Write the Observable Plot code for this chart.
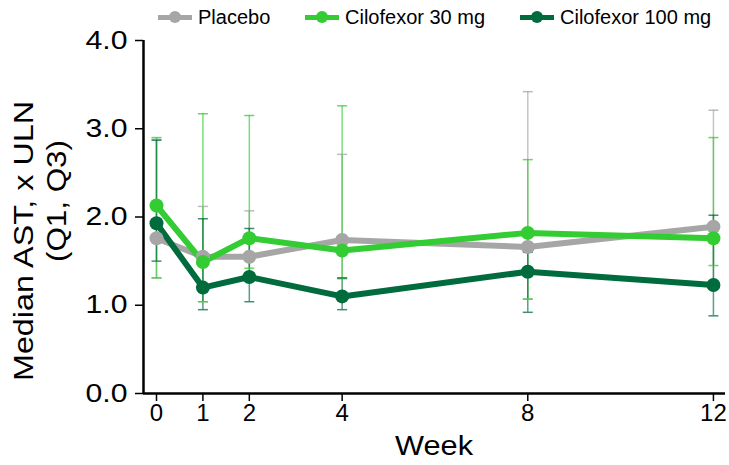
<!DOCTYPE html>
<html>
<head>
<meta charset="utf-8">
<script src="https://cdn.jsdelivr.net/npm/d3@7"></script>
<script src="https://cdn.jsdelivr.net/npm/@observablehq/plot@0.6"></script>
<style>
  html, body { margin: 0; padding: 0; background: #fff; }
  #wrap { position: relative; width: 729px; height: 465px; font-family: "Liberation Sans", Arial, sans-serif; }
  #legend { position: absolute; top: 4px; left: 0; width: 729px; height: 26px; }
  .item { position: absolute; top: 0; height: 26px; display: flex; align-items: center; font-size: 20px; color: #000; white-space: nowrap; }
  .sw { position: relative; width: 34px; height: 26px; margin-right: 6px; }
  .sw .ln { position: absolute; left: 0; right: 0; top: 10.5px; height: 5px; }
  .sw .dt { position: absolute; left: 11px; top: 7px; width: 12px; height: 12px; border-radius: 50%; }
</style>
</head>
<body>
<div id="wrap">
  <div id="chart"></div>
  <div id="legend"></div>
</div>
<script>
const weeks = [0, 1, 2, 4, 8, 12];
const seriesNames = ["Placebo", "Cilofexor 30 mg", "Cilofexor 100 mg"];
const seriesColors = ["#a6a6a6", "#33cc33", "#006b3c"];

const placeboMedian = [1.76, 1.55, 1.55, 1.74, 1.66, 1.89];
const placeboQ1     = [1.31, 1.04, 1.30, 1.31, 1.07, 1.26];
const placeboQ3     = [2.88, 2.12, 2.07, 2.71, 3.42, 3.21];

const cil30Median = [2.13, 1.49, 1.76, 1.62, 1.82, 1.76];
const cil30Q1     = [1.31, 1.04, 1.42, 1.30, 1.07, 1.45];
const cil30Q3     = [2.90, 3.17, 3.15, 3.26, 2.65, 2.90];

const cil100Median = [1.93, 1.20, 1.32, 1.10, 1.38, 1.23];
const cil100Q1     = [1.50, 0.95, 1.04, 0.95, 0.92, 0.88];
const cil100Q3     = [2.87, 1.98, 1.87, 1.31, 1.60, 2.02];

const yTicks = [0, 1, 2, 3, 4];
const xDomain = [-0.28, 12.26];
const yDomain = [0, 4];

const raw = [
  [placeboMedian, placeboQ1, placeboQ3],
  [cil30Median, cil30Q1, cil30Q3],
  [cil100Median, cil100Q1, cil100Q3]
];
const data = [];
raw.forEach((s, i) => {
  weeks.forEach((w, j) => {
    data.push({series: seriesNames[i], week: w, median: s[0][j], q1: s[1][j], q3: s[2][j]});
  });
});

const capSymbol = {
  draw(context) {
    context.moveTo(-5, 0);
    context.lineTo(5, 0);
  }
};

const color = {domain: seriesNames, range: seriesColors};

const chart = Plot.plot({
  width: 729,
  height: 465,
  marginTop: 40,
  marginBottom: 72,
  marginLeft: 143,
  marginRight: 4,
  style: {fontFamily: '"Liberation Sans", Arial, sans-serif', fontSize: "24px", color: "#000", background: "#fff"},
  x: {domain: xDomain, label: null},
  y: {domain: yDomain, label: null},
  color,
  marks: [
    Plot.ruleX(data, {x: "week", y1: "q1", y2: "q3", stroke: "series", strokeWidth: 1.5, strokeOpacity: 0.65}),
    Plot.dot(data, {x: "week", y: "q1", symbol: capSymbol, r: 5, stroke: "series", strokeWidth: 1.5, strokeOpacity: 0.75, fill: "none"}),
    Plot.dot(data, {x: "week", y: "q3", symbol: capSymbol, r: 5, stroke: "series", strokeWidth: 1.5, strokeOpacity: 0.75, fill: "none"}),
    Plot.line(data, {x: "week", y: "median", z: "series", stroke: "series", strokeWidth: 6}),
    Plot.dot(data, {x: "week", y: "median", fill: "series", r: 7}),
    Plot.ruleY([yDomain[0]], {stroke: "#000", strokeWidth: 2.5}),
    Plot.ruleX([xDomain[0]], {stroke: "#000", strokeWidth: 2.5}),
    Plot.axisX({ticks: weeks, tickFormat: d => String(d), tickSize: 8, tickPadding: 2, fontSize: 24, label: null, strokeWidth: 1.5}),
    Plot.axisY({ticks: yTicks, tickFormat: d3.format(".1f"), tickSize: 8, tickPadding: 8, fontSize: 25, label: null, strokeWidth: 1.5})
  ]
});
document.getElementById("chart").appendChild(chart);

const svg = d3.select(chart);
svg.selectAll("g[aria-label='y-axis tick label'] text")
  .attr("textLength", 42).attr("lengthAdjust", "spacingAndGlyphs");

// axis titles
svg.append("text")
  .attr("transform", "translate(24,241) rotate(-90)")
  .attr("text-anchor", "middle").attr("dominant-baseline", "central")
  .attr("font-size", 27).attr("fill", "#000")
  .attr("textLength", 280).attr("lengthAdjust", "spacingAndGlyphs")
  .text("Median AST, x ULN");
svg.append("text")
  .attr("transform", "translate(57,201) rotate(-90)")
  .attr("text-anchor", "middle").attr("dominant-baseline", "central")
  .attr("font-size", 27).attr("fill", "#000")
  .attr("textLength", 122).attr("lengthAdjust", "spacingAndGlyphs")
  .text("(Q1, Q3)");
svg.append("text")
  .attr("x", 434).attr("y", 446)
  .attr("text-anchor", "middle").attr("dominant-baseline", "central")
  .attr("font-size", 27).attr("fill", "#000")
  .attr("textLength", 78).attr("lengthAdjust", "spacingAndGlyphs")
  .text("Week");

// legend
const legendLeft = [158, 305, 520];
const legend = document.getElementById("legend");
seriesNames.forEach((name, i) => {
  const item = document.createElement("div");
  item.className = "item";
  item.style.left = legendLeft[i] + "px";
  item.innerHTML = `<div class="sw"><div class="ln" style="background:${seriesColors[i]}"></div><div class="dt" style="background:${seriesColors[i]}"></div></div><span>${name}</span>`;
  legend.appendChild(item);
});
</script>
</body>
</html>
